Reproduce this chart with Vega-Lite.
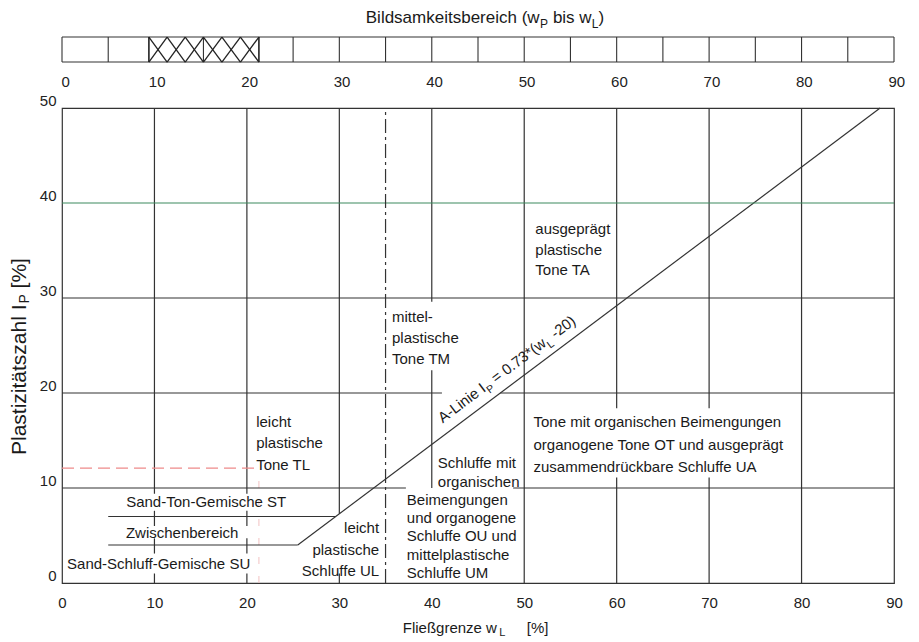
{
  "$schema": "https://vega.github.io/schema/vega-lite/v6.json",
  "autosize": {"type": "none"},
  "padding": {"left": 62, "top": 108, "right": 25, "bottom": 59},
  "width": 832,
  "height": 475,
  "background": "white",
  "config": {
    "view": {"stroke": "#333", "strokeWidth": 1.2},
    "font": "Liberation Sans",
    "text": {"font": "Liberation Sans", "color": "#1a1a1a"}
  },
  "datasets": {
    "bar_rules": [
      {"x": 0, "y": 54.84, "x2": 90, "y2": 54.84},
      {"x": 0, "y": 57.47, "x2": 90, "y2": 57.47},
      {"x": 0, "y": 54.84, "x2": 0, "y2": 57.47},
      {"x": 90, "y": 54.84, "x2": 90, "y2": 57.47},
      {"x": 5, "y": 54.84, "x2": 5, "y2": 57.47},
      {"x": 15.3, "y": 54.84, "x2": 15.3, "y2": 57.47},
      {"x": 25, "y": 54.84, "x2": 25, "y2": 57.47},
      {"x": 30, "y": 54.84, "x2": 30, "y2": 57.47},
      {"x": 35, "y": 54.84, "x2": 35, "y2": 57.47},
      {"x": 40, "y": 54.84, "x2": 40, "y2": 57.47},
      {"x": 45, "y": 54.84, "x2": 45, "y2": 57.47},
      {"x": 50, "y": 54.84, "x2": 50, "y2": 57.47},
      {"x": 55, "y": 54.84, "x2": 55, "y2": 57.47},
      {"x": 60, "y": 54.84, "x2": 60, "y2": 57.47},
      {"x": 65, "y": 54.84, "x2": 65, "y2": 57.47},
      {"x": 70, "y": 54.84, "x2": 70, "y2": 57.47},
      {"x": 75, "y": 54.84, "x2": 75, "y2": 57.47},
      {"x": 80, "y": 54.84, "x2": 80, "y2": 57.47},
      {"x": 85, "y": 54.84, "x2": 85, "y2": 57.47}
    ],
    "hatch_border": [
      {"x": 9.4, "y": 54.84, "x2": 9.4, "y2": 57.47},
      {"x": 21.3, "y": 54.84, "x2": 21.3, "y2": 57.47}
    ],
    "hatch": [
      {"x": 9.4, "y": 54.84, "x2": 11.37, "y2": 57.47},
      {"x": 9.4, "y": 57.47, "x2": 11.37, "y2": 54.84},
      {"x": 11.37, "y": 54.84, "x2": 13.33, "y2": 57.47},
      {"x": 11.37, "y": 57.47, "x2": 13.33, "y2": 54.84},
      {"x": 13.33, "y": 54.84, "x2": 15.3, "y2": 57.47},
      {"x": 13.33, "y": 57.47, "x2": 15.3, "y2": 54.84},
      {"x": 15.3, "y": 54.84, "x2": 17.3, "y2": 57.47},
      {"x": 15.3, "y": 57.47, "x2": 17.3, "y2": 54.84},
      {"x": 17.3, "y": 54.84, "x2": 19.3, "y2": 57.47},
      {"x": 17.3, "y": 57.47, "x2": 19.3, "y2": 54.84},
      {"x": 19.3, "y": 54.84, "x2": 21.3, "y2": 57.47},
      {"x": 19.3, "y": 57.47, "x2": 21.3, "y2": 54.84}
    ],
    "top_labels": [
      {"x": 0.4, "y": 52.74, "text": "0"},
      {"x": 10.3, "y": 52.74, "text": "10"},
      {"x": 20.3, "y": 52.74, "text": "20"},
      {"x": 30.3, "y": 52.74, "text": "30"},
      {"x": 40.3, "y": 52.74, "text": "40"},
      {"x": 50.3, "y": 52.74, "text": "50"},
      {"x": 60.3, "y": 52.74, "text": "60"},
      {"x": 70.3, "y": 52.74, "text": "70"},
      {"x": 80.3, "y": 52.74, "text": "80"},
      {"x": 90.3, "y": 52.74, "text": "90"}
    ],
    "top_title": [
      {"x": 32.86, "y": 59.47, "text": "Bildsamkeitsbereich (w"},
      {"x": 53.1, "y": 59.47, "text": "bis w"},
      {"x": 58.04, "y": 59.47, "text": ")"}
    ],
    "top_title_sub": [
      {"x": 51.71, "y": 58.84, "text": "P"},
      {"x": 57.3, "y": 58.84, "text": "L"}
    ],
    "solid": [
      {"x": 10, "y": 9.4, "x2": 10, "y2": 50},
      {"x": 10, "y": 6.0, "x2": 10, "y2": 7.6},
      {"x": 10, "y": 3.1, "x2": 10, "y2": 4.7},
      {"x": 10, "y": 0, "x2": 10, "y2": 1.0},
      {"x": 20, "y": 9.4, "x2": 20, "y2": 50},
      {"x": 20, "y": 6.0, "x2": 20, "y2": 7.6},
      {"x": 20, "y": 3.1, "x2": 20, "y2": 4.7},
      {"x": 20, "y": 0, "x2": 20, "y2": 1.0},
      {"x": 30, "y": 7.3, "x2": 30, "y2": 50},
      {"x": 30, "y": 0, "x2": 30, "y2": 1.0},
      {"x": 40, "y": 29.6, "x2": 40, "y2": 50},
      {"x": 40, "y": 10, "x2": 40, "y2": 22.4},
      {"x": 50, "y": 0, "x2": 50, "y2": 50},
      {"x": 60, "y": 0, "x2": 60, "y2": 11.1},
      {"x": 60, "y": 18.4, "x2": 60, "y2": 50},
      {"x": 70, "y": 0, "x2": 70, "y2": 11.1},
      {"x": 70, "y": 18.4, "x2": 70, "y2": 50},
      {"x": 80, "y": 0, "x2": 80, "y2": 50},
      {"x": 0, "y": 30, "x2": 90, "y2": 30},
      {"x": 0, "y": 20, "x2": 41.1, "y2": 20},
      {"x": 47.4, "y": 20, "x2": 90, "y2": 20},
      {"x": 0, "y": 10, "x2": 37.2, "y2": 10},
      {"x": 48.8, "y": 10, "x2": 90, "y2": 10},
      {"x": 5, "y": 7, "x2": 29.6, "y2": 7},
      {"x": 5, "y": 4, "x2": 25.5, "y2": 4},
      {"x": 25.5, "y": 4, "x2": 88.5, "y2": 50}
    ],
    "green": [{"x": 0, "y": 40, "x2": 90, "y2": 40}],
    "dashdot": [{"x": 35, "y": 0, "x2": 35, "y2": 50}],
    "red": [{"x": 0, "y": 12.1, "x2": 21.0, "y2": 12.1}],
    "pink": [{"x": 21.3, "y": 0, "x2": 21.3, "y2": 11.4}],
    "txt_left": [
      {"x": 21.0, "y": 16.9, "text": "leicht"},
      {"x": 21.0, "y": 14.7, "text": "plastische"},
      {"x": 21.0, "y": 12.45, "text": "Tone TL"},
      {"x": 0.55, "y": 2.0, "text": "Sand-Schluff-Gemische SU"},
      {"x": 35.7, "y": 27.95, "text": "mittel-"},
      {"x": 35.7, "y": 25.75, "text": "plastische"},
      {"x": 35.7, "y": 23.6, "text": "Tone TM"},
      {"x": 40.65, "y": 12.66, "text": "Schluffe mit"},
      {"x": 40.65, "y": 10.65, "text": "organischen"},
      {"x": 37.3, "y": 8.75, "text": "Beimengungen"},
      {"x": 37.3, "y": 6.8, "text": "und organogene"},
      {"x": 37.3, "y": 4.9, "text": "Schluffe OU und"},
      {"x": 37.3, "y": 2.95, "text": "mittelplastische"},
      {"x": 37.3, "y": 1.05, "text": "Schluffe UM"},
      {"x": 51.2, "y": 37.3, "text": "ausgeprägt"},
      {"x": 51.2, "y": 35.1, "text": "plastische"},
      {"x": 51.2, "y": 32.9, "text": "Tone TA"},
      {"x": 51.0, "y": 16.9, "text": "Tone mit organischen Beimengungen"},
      {"x": 51.0, "y": 14.55, "text": "organogene Tone OT und ausgeprägt"},
      {"x": 51.0, "y": 12.2, "text": "zusammendrückbare Schluffe UA"}
    ],
    "txt_center": [
      {"x": 15.6, "y": 8.55, "text": "Sand-Ton-Gemische ST"},
      {"x": 13.0, "y": 5.3, "text": "Zwischenbereich"}
    ],
    "txt_right": [
      {"x": 34.3, "y": 5.8, "text": "leicht"},
      {"x": 34.3, "y": 3.5, "text": "plastische"},
      {"x": 34.3, "y": 1.27, "text": "Schluffe UL"}
    ],
    "aline_txt": [
      {"x": 41.19, "y": 16.78, "text": "A-Linie I"},
      {"x": 46.96, "y": 20.99, "text": "= 0.73*(w"},
      {"x": 53.38, "y": 25.68, "text": "-20)"}
    ],
    "aline_sub": [
      {"x": 46.28, "y": 19.91, "text": "P"},
      {"x": 52.81, "y": 24.67, "text": "L"}
    ],
    "xtitle": [
      {"x": 36.86, "y": -4.74, "text": "Fließgrenze w"},
      {"x": 50.27, "y": -4.74, "text": "[%]"}
    ],
    "xtitle_sub": [{"x": 47.3, "y": -5.3, "text": "L"}],
    "ytitle": [
      {"x": -4.54, "y": 13.47, "text": "Plastizitätszahl I"},
      {"x": -4.54, "y": 31.01, "text": "[%]"}
    ],
    "ytitle_sub": [{"x": -4.0, "y": 29.42, "text": "P"}]
  },
  "encoding": {
    "x": {"field": "x", "type": "quantitative", "scale": {"domain": [0, 90], "nice": false, "zero": false},
      "axis": {"values": [0, 10, 20, 30, 40, 50, 60, 70, 80, 90], "ticks": false, "domain": false, "grid": false, "labelFontSize": 15, "labelPadding": 12, "labelFlush": false, "labelColor": "#222", "title": null}},
    "y": {"field": "y", "type": "quantitative", "scale": {"domain": [0, 50], "nice": false, "zero": false},
      "axis": {"values": [0, 10, 20, 30, 40, 50], "ticks": false, "domain": false, "grid": false, "labelFontSize": 15, "labelPadding": 6, "labelBaseline": "bottom", "labelFlush": false, "labelColor": "#222", "title": null}}
  },
  "layer": [
    {"data": {"name": "bar_rules"}, "mark": {"type": "rule", "color": "#333", "strokeWidth": 1.1},
      "encoding": {"x2": {"field": "x2"}, "y2": {"field": "y2"}}},
    {"data": {"name": "hatch_border"}, "mark": {"type": "rule", "color": "#222", "strokeWidth": 1.6},
      "encoding": {"x2": {"field": "x2"}, "y2": {"field": "y2"}}},
    {"data": {"name": "hatch"}, "mark": {"type": "rule", "color": "#222", "strokeWidth": 1.3},
      "encoding": {"x2": {"field": "x2"}, "y2": {"field": "y2"}}},
    {"data": {"name": "top_labels"}, "mark": {"type": "text", "align": "center", "baseline": "middle", "fontSize": 15, "color": "#222"},
      "encoding": {"text": {"field": "text", "type": "nominal"}}},
    {"data": {"name": "top_title"}, "mark": {"type": "text", "align": "left", "baseline": "middle", "fontSize": 17},
      "encoding": {"text": {"field": "text", "type": "nominal"}}},
    {"data": {"name": "top_title_sub"}, "mark": {"type": "text", "align": "left", "baseline": "middle", "fontSize": 12},
      "encoding": {"text": {"field": "text", "type": "nominal"}}},
    {"data": {"name": "pink"}, "mark": {"type": "rule", "color": "#f2c2c2", "strokeWidth": 1, "strokeDash": [7, 12]},
      "encoding": {"x2": {"field": "x2"}, "y2": {"field": "y2"}}},
    {"data": {"name": "solid"}, "mark": {"type": "rule", "color": "#333", "strokeWidth": 1.2},
      "encoding": {"x2": {"field": "x2"}, "y2": {"field": "y2"}}},
    {"data": {"name": "green"}, "mark": {"type": "rule", "color": "#3d8a5f", "strokeWidth": 1.2},
      "encoding": {"x2": {"field": "x2"}, "y2": {"field": "y2"}}},
    {"data": {"name": "dashdot"}, "mark": {"type": "rule", "color": "#333", "strokeWidth": 1.2, "strokeDash": [14, 4, 3, 4]},
      "encoding": {"x2": {"field": "x2"}, "y2": {"field": "y2"}}},
    {"data": {"name": "red"}, "mark": {"type": "rule", "color": "#ee8a8a", "strokeWidth": 1.2, "strokeDash": [12, 6]},
      "encoding": {"x2": {"field": "x2"}, "y2": {"field": "y2"}}},
    {"data": {"name": "txt_left"}, "mark": {"type": "text", "align": "left", "baseline": "middle", "fontSize": 15},
      "encoding": {"text": {"field": "text", "type": "nominal"}}},
    {"data": {"name": "txt_center"}, "mark": {"type": "text", "align": "center", "baseline": "middle", "fontSize": 15},
      "encoding": {"text": {"field": "text", "type": "nominal"}}},
    {"data": {"name": "txt_right"}, "mark": {"type": "text", "align": "right", "baseline": "middle", "fontSize": 15},
      "encoding": {"text": {"field": "text", "type": "nominal"}}},
    {"data": {"name": "aline_txt"}, "mark": {"type": "text", "align": "left", "baseline": "alphabetic", "fontSize": 15, "angle": 323},
      "encoding": {"text": {"field": "text", "type": "nominal"}}},
    {"data": {"name": "aline_sub"}, "mark": {"type": "text", "align": "left", "baseline": "alphabetic", "fontSize": 10.5, "angle": 323},
      "encoding": {"text": {"field": "text", "type": "nominal"}}},
    {"data": {"name": "xtitle"}, "mark": {"type": "text", "align": "left", "baseline": "middle", "fontSize": 15},
      "encoding": {"text": {"field": "text", "type": "nominal"}}},
    {"data": {"name": "xtitle_sub"}, "mark": {"type": "text", "align": "left", "baseline": "middle", "fontSize": 11},
      "encoding": {"text": {"field": "text", "type": "nominal"}}},
    {"data": {"name": "ytitle"}, "mark": {"type": "text", "align": "left", "baseline": "middle", "fontSize": 21, "angle": 270},
      "encoding": {"text": {"field": "text", "type": "nominal"}}},
    {"data": {"name": "ytitle_sub"}, "mark": {"type": "text", "align": "left", "baseline": "middle", "fontSize": 14, "angle": 270},
      "encoding": {"text": {"field": "text", "type": "nominal"}}}
  ]
}
